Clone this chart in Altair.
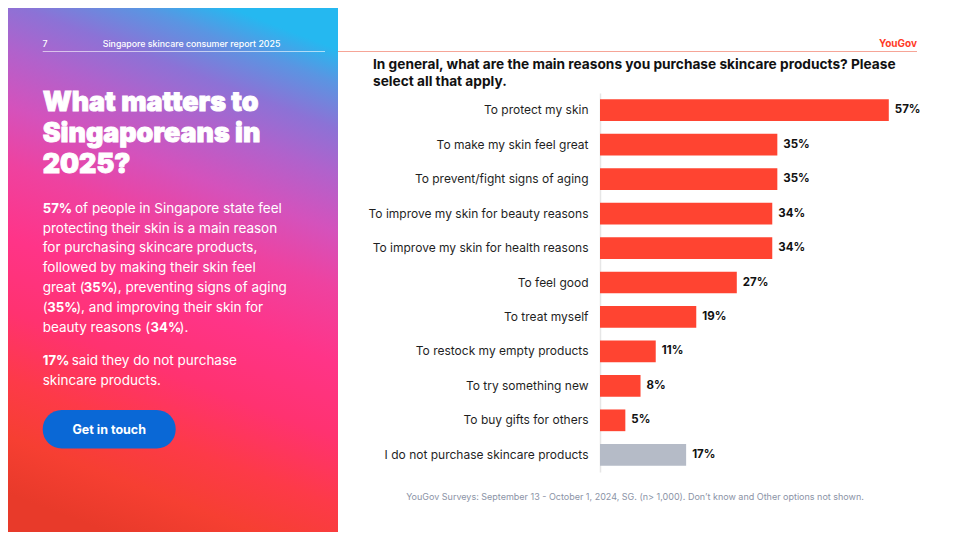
import altair as alt
import pandas as pd

# ---------------- data ----------------
labels = [
    "To protect my skin",
    "To make my skin feel great",
    "To prevent/fight signs of aging",
    "To improve my skin for beauty reasons",
    "To improve my skin for health reasons",
    "To feel good",
    "To treat myself",
    "To restock my empty products",
    "To try something new",
    "To buy gifts for others",
    "I do not purchase skincare products",
]
values = [57, 35, 35, 34, 34, 27, 19, 11, 8, 5, 17]
kinds = ["reason"] * 10 + ["none"]

df = pd.DataFrame({"label": labels, "value": values, "kind": kinds})
df["text"] = df["value"].astype(str) + "%"

# ---------------- layout helpers ----------------
X0, Y0 = 600, 93          # page position of the plot origin
W, H = 304, 379
FONT = "Inter"
one = pd.DataFrame({"d": [0]})


def px(x):
    return x - X0


def py(y):
    return y - Y0


def txt(x, y, s, size, color="white", weight="normal", align="left", font=FONT, opacity=1.0, **kw):
    return alt.Chart(one).mark_text(
        text=s, align=align, baseline="alphabetic", fontSize=size,
        fontWeight=weight, font=font, color=color, opacity=opacity, **kw
    ).encode(x=alt.value(px(x)), y=alt.value(py(y)))


def rule(x1, x2, y, color, width=1.0, opacity=1.0):
    return alt.Chart(one).mark_rule(color=color, strokeWidth=width, opacity=opacity).encode(
        x=alt.value(px(x1)), x2=alt.value(px(x2)), y=alt.value(py(y)))


def rect(x1, y1, x2, y2, **kw):
    return alt.Chart(one).mark_rect(**kw).encode(
        x=alt.value(px(x1)), x2=alt.value(px(x2)), y=alt.value(py(y1)), y2=alt.value(py(y2)))


grad = {
    "gradient": "linear", "x1": 0.62, "y1": 0, "x2": 0.38, "y2": 1,
    "stops": [
        {"offset": 0.0, "color": "#25b8f0"},
        {"offset": 0.06, "color": "#5a95e2"},
        {"offset": 0.14, "color": "#8c72d6"},
        {"offset": 0.22, "color": "#b062cc"},
        {"offset": 0.32, "color": "#d452bc"},
        {"offset": 0.42, "color": "#ee42a0"},
        {"offset": 0.55, "color": "#ff3488"},
        {"offset": 0.68, "color": "#ff3270"},
        {"offset": 0.8, "color": "#fd3a48"},
        {"offset": 0.9, "color": "#f63f32"},
        {"offset": 1.0, "color": "#e83a2a"},
    ],
}

layers = []
# left gradient panel
layers.append(rect(0, 0, 338, 540, fill=grad))

# header
layers.append(txt(42.5, 46.5, "7", 8.8, weight=500))
layers.append(txt(102.7, 46.5, "Singapore skincare consumer report 2025", 8.8, weight=500))
layers.append(rule(42.7, 325, 51.5, "white", 1.2, 0.6))
layers.append(rule(338, 917, 51.5, "#f6a597", 1.2))
layers.append(txt(917, 47, "YouGov", 10, color="#ff3b27", weight="bold", align="right"))

# heading
for yb, s in zip([111, 141.5, 172.5], ["What matters to", "Singaporeans in", "2025?"]):
    layers.append(txt(42.7, yb, s, 26.8, weight=900, stroke="white", strokeWidth=0.9))

# body
B = [212.7, 232.5, 252.3, 272.1, 291.9, 311.7, 331.5]
BS = 13.5
BB = 13.2
layers += [
    txt(42.7, B[0], "57%", BB, weight="bold"),
    txt(75, B[0], "of people in Singapore state feel", BS),
    txt(42.7, B[1], "protecting their skin is a main reason", BS),
    txt(42.7, B[2], "for purchasing skincare products,", BS),
    txt(42.7, B[3], "followed by making their skin feel", BS),
    txt(42.7, B[4], "great (", BS),
    txt(83.8, B[4], "35%", BB, weight="bold"),
    txt(112.8, B[4], "), preventing signs of aging", BS),
    txt(42.7, B[5], "(", BS),
    txt(47.2, B[5], "35%", BB, weight="bold"),
    txt(76.2, B[5], "), and improving their skin for", BS),
    txt(42.7, B[6], "beauty reasons (", BS),
    txt(150.6, B[6], "34%", BB, weight="bold"),
    txt(179.6, B[6], ").", BS),
    txt(42.7, 365, "17%", BB, weight="bold"),
    txt(71.7, 365, "said they do not purchase", BS),
    txt(42.7, 385, "skincare products.", BS),
]

# button
layers.append(rect(42.7, 410, 175.7, 448.5, fill="#0a68d6", cornerRadius=19))
layers.append(txt(109.2, 434, "Get in touch", 12.5, weight="bold", align="center"))

# chart title
layers.append(txt(373, 68.5, "In general, what are the main reasons you purchase skincare products? Please",
                  13.7, color="#111111", weight="bold"))
layers.append(txt(373, 85.5, "select all that apply.", 13.7, color="#111111", weight="bold"))

# footnote
layers.append(txt(635, 499.5,
                  "YouGov Surveys: September 13 - October 1, 2024, SG. (n> 1,000). Don\u2019t know and Other options not shown.",
                  9, color="#8b93a6", align="center"))

# ---------------- bars ----------------
y_enc = alt.Y(
    "label:N", sort=labels,
    scale=alt.Scale(paddingInner=0.37, paddingOuter=0.185),
    axis=alt.Axis(title=None, ticks=False, tickSize=0, labelPadding=12, labelFont=FONT,
                  labelFontSize=12, labelColor="#1f1f1f", domainColor="#e6e6e6",
                  domainWidth=1.5, labelLimit=300, grid=False),
)
x_enc = alt.X("value:Q", scale=alt.Scale(domain=[0, 60]), axis=None)

bars = alt.Chart(df).mark_bar().encode(
    x=x_enc, y=y_enc,
    color=alt.Color("kind:N", scale=alt.Scale(domain=["reason", "none"], range=["#ff4431", "#b5bbc7"]),
                    legend=None),
)
vals = alt.Chart(df).mark_text(
    align="left", baseline="middle", dx=6, font=FONT, fontSize=11.5, fontWeight="bold", color="#111111"
).encode(x=x_enc, y=y_enc, text="text:N")

layers += [bars, vals]

chart = alt.layer(*layers).properties(
    width=W, height=H,
    padding={"left": 592, "top": 85, "right": 48, "bottom": 60},
    autosize=alt.AutoSizeParams(type="none"),
    background="white",
).configure_view(stroke=None)

chart.save("out.html", embed_options={"renderer": "svg", "actions": False})
